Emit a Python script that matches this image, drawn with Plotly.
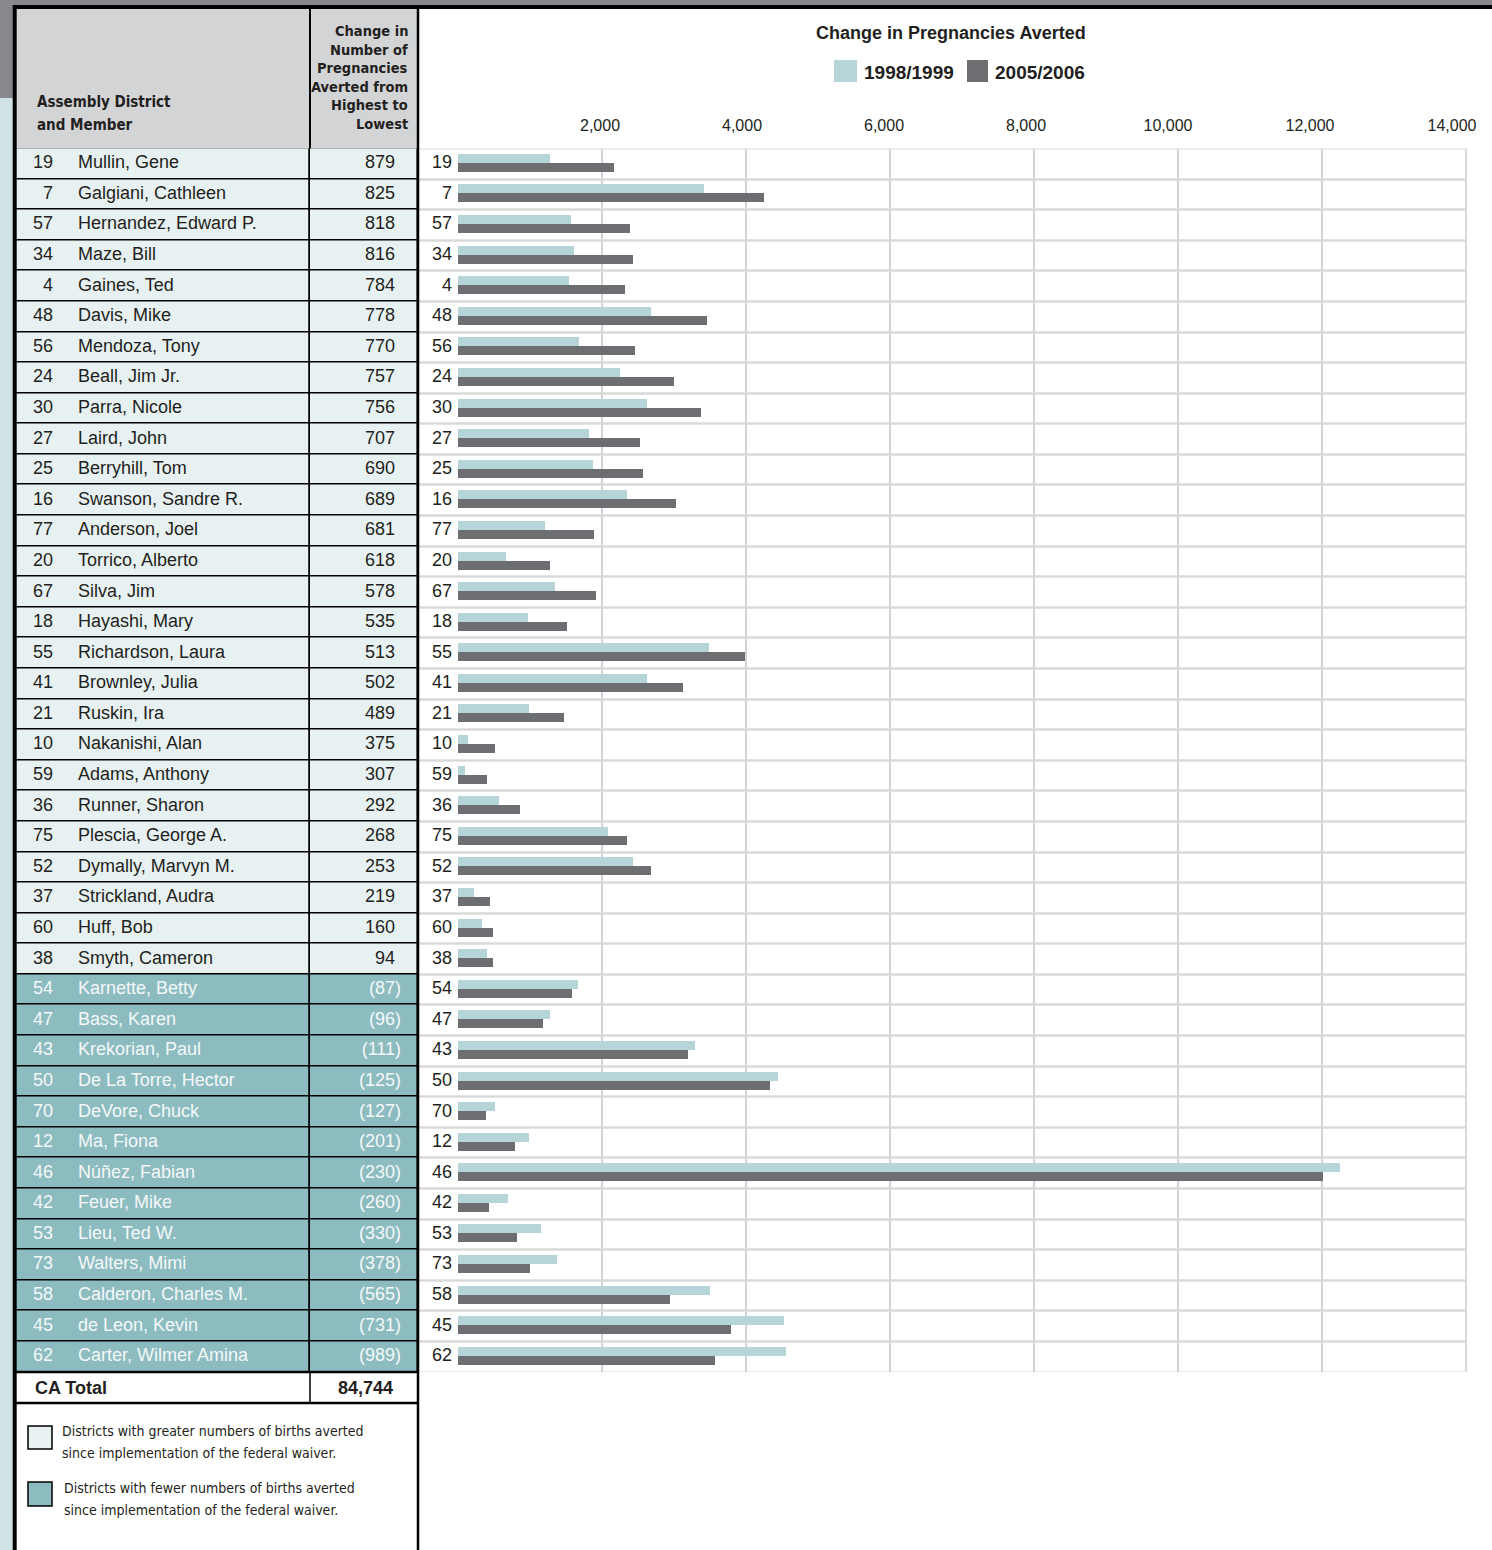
import plotly.graph_objects as go

# ---------------- data ----------------
districts = [19, 7, 57, 34, 4, 48, 56, 24, 30, 27, 25, 16, 77, 20, 67, 18, 55, 41, 21, 10,
             59, 36, 75, 52, 37, 60, 38, 54, 47, 43, 50, 70, 12, 46, 42, 53, 73, 58, 45, 62]
members = ["Mullin, Gene", "Galgiani, Cathleen", "Hernandez, Edward P.", "Maze, Bill",
           "Gaines, Ted", "Davis, Mike", "Mendoza, Tony", "Beall, Jim Jr.", "Parra, Nicole",
           "Laird, John", "Berryhill, Tom", "Swanson, Sandre R.", "Anderson, Joel",
           "Torrico, Alberto", "Silva, Jim", "Hayashi, Mary", "Richardson, Laura",
           "Brownley, Julia", "Ruskin, Ira", "Nakanishi, Alan", "Adams, Anthony",
           "Runner, Sharon", "Plescia, George A.", "Dymally, Marvyn M.", "Strickland, Audra",
           "Huff, Bob", "Smyth, Cameron", "Karnette, Betty", "Bass, Karen", "Krekorian, Paul",
           "De La Torre, Hector", "DeVore, Chuck", "Ma, Fiona", "Núñez, Fabian", "Feuer, Mike",
           "Lieu, Ted W.", "Walters, Mimi", "Calderon, Charles M.", "de Leon, Kevin",
           "Carter, Wilmer Amina"]
change = [879, 825, 818, 816, 784, 778, 770, 757, 756, 707, 690, 689, 681, 618, 578, 535,
          513, 502, 489, 375, 307, 292, 268, 253, 219, 160, 94, -87, -96, -111, -125, -127,
          -201, -230, -260, -330, -378, -565, -731, -989]
v1998 = [1282, 3426, 1569, 1615, 1546, 2685, 1685, 2254, 2629, 1824, 1879, 2351, 1213, 671,
         1351, 976, 3490, 2629, 990, 143, 101, 574, 2088, 2435, 226, 338, 407, 1671, 1282,
         3296, 4449, 518, 990, 12254, 699, 1157, 1379, 3504, 4532, 4560]
v2005 = [2167, 4254, 2389, 2435, 2324, 3463, 2463, 3004, 3379, 2532, 2574, 3032, 1893, 1282,
         1921, 1518, 3990, 3129, 1476, 518, 407, 865, 2351, 2685, 449, 490, 490, 1588, 1185,
         3199, 4338, 393, 796, 12014, 435, 824, 1004, 2949, 3796, 3574]
ca_total = "84,744"
series_names = ["1998/1999", "2005/2006"]
tick_values = [2000, 4000, 6000, 8000, 10000, 12000, 14000]
title_text = "Change in Pregnancies Averted"
col1_header = ["Assembly District", "and Member"]
col2_header = ["Change in", "Number of", "Pregnancies", "Averted from", "Highest to", "Lowest"]
legend_lines = [["Districts with greater numbers of births averted",
                 "since implementation of the federal waiver."],
                ["Districts with fewer numbers of births averted",
                 "since implementation of the federal waiver."]]

# ---------------- styling / geometry ----------------
W, H = 1492, 1550
REG = "Liberation Sans, Arial, sans-serif"
NARROW = "DejaVu Sans Condensed, Liberation Sans Narrow, Liberation Sans, sans-serif"
C_LIGHTROW = "#e8f1f2"
C_TEALROW = "#8dbcc0"
C_HEADER = "#d3d4d6"
C_BAR1 = "#b5d5d9"
C_BAR2 = "#6d6e71"
C_TEXT = "#231f20"
C_GRID = "#d2d2d4"

def px(x):
    return x / W

def py(y):
    return 1 - y / H

TABLE_L, TABLE_R, DIV = 15, 418, 310
ROW_TOP, ROW_BOT = 148.5, 1372
CHART_L = 418
ZERO_PX, PX_PER_UNIT = 457.7, 0.0720
x2_min = (CHART_L - ZERO_PX) / PX_PER_UNIT
x2_max = (W - ZERO_PX) / PX_PER_UNIT
# the printed tick labels sit on a slightly tighter scale than the gridlines
LBL_ZERO_PX, LBL_PX_PER_UNIT = 458.0, 0.0710
x3_min = (CHART_L - LBL_ZERO_PX) / LBL_PX_PER_UNIT
x3_max = (W - LBL_ZERO_PX) / LBL_PX_PER_UNIT

keys = [str(d) for d in districts]
n = len(keys)
positive = [c >= 0 for c in change]
row_fill = [C_LIGHTROW if p else C_TEALROW for p in positive]
row_txt = [C_TEXT if p else "#f4f8f8" for p in positive]
val_text = [f"{c:,}" if c >= 0 else f"({-c:,})" for c in change]

fig = go.Figure()

# ---- table rows (x axis 'x', shared categorical y) ----
name_w = DIV - TABLE_L
val_w = TABLE_R - DIV
fig.add_trace(go.Bar(orientation="h", y=keys, x=[name_w] * n, base=0, width=1,
                     marker=dict(color=row_fill, line=dict(color="black", width=1.5)),
                     xaxis="x", yaxis="y", hoverinfo="skip", showlegend=False))
fig.add_trace(go.Bar(orientation="h", y=keys, x=[val_w] * n, base=name_w, width=1,
                     marker=dict(color=row_fill, line=dict(color="black", width=1.5)),
                     xaxis="x", yaxis="y", hoverinfo="skip", showlegend=False))

fig.add_trace(go.Scatter(x=[53 - TABLE_L] * n, y=keys, text=[str(d) for d in districts],
                         mode="text", textposition="middle left",
                         textfont=dict(family=REG, size=18, color=row_txt),
                         xaxis="x", yaxis="y", hoverinfo="skip", showlegend=False))
fig.add_trace(go.Scatter(x=[78 - TABLE_L] * n, y=keys, text=members,
                         mode="text", textposition="middle right",
                         textfont=dict(family=REG, size=18, color=row_txt),
                         xaxis="x", yaxis="y", hoverinfo="skip", showlegend=False))
val_x = [(395 if p else 401) - TABLE_L for p in positive]
fig.add_trace(go.Scatter(x=val_x, y=keys, text=val_text,
                         mode="text", textposition="middle left",
                         textfont=dict(family=REG, size=18, color=row_txt),
                         xaxis="x", yaxis="y", hoverinfo="skip", showlegend=False))

# ---- chart (x axis 'x2') ----
fig.add_trace(go.Bar(orientation="h", y=keys, x=[tick_values[-1] - x2_min] * n, base=x2_min,
                     width=1, marker=dict(color="rgba(0,0,0,0)",
                                          line=dict(color="#d9d9da", width=2)),
                     xaxis="x2", yaxis="y", hoverinfo="skip", showlegend=False))
fig.add_trace(go.Bar(orientation="h", y=keys, x=v1998, name=series_names[0],
                     offset=0.046, width=0.294, marker=dict(color=C_BAR1, line=dict(width=0)),
                     xaxis="x2", yaxis="y", showlegend=False))
fig.add_trace(go.Bar(orientation="h", y=keys, x=v2005, name=series_names[1],
                     offset=-0.248, width=0.294, marker=dict(color=C_BAR2, line=dict(width=0)),
                     xaxis="x2", yaxis="y", showlegend=False))
fig.add_trace(go.Scatter(x=[(452 - ZERO_PX) / PX_PER_UNIT] * n, y=keys, text=keys,
                         mode="text", textposition="middle left",
                         textfont=dict(family=REG, size=18, color=C_TEXT),
                         xaxis="x2", yaxis="y", hoverinfo="skip", showlegend=False))
# invisible trace to carry the tick-label axis
fig.add_trace(go.Scatter(x=[tick_values[0]], y=[keys[0]], mode="markers",
                         marker=dict(opacity=0), xaxis="x3", yaxis="y",
                         hoverinfo="skip", showlegend=False))

# ---------------- shapes ----------------
shapes = []

def rect(x0, y0, x1, y1, fill, line_color=None, lw=0, layer="below"):
    shapes.append(dict(type="rect", xref="paper", yref="paper",
                       x0=px(x0), x1=px(x1), y0=py(y1), y1=py(y0),
                       fillcolor=fill, layer=layer,
                       line=dict(color=line_color or fill, width=lw)))

def line(x0, y0, x1, y1, color="black", lw=2):
    shapes.append(dict(type="line", xref="paper", yref="paper",
                       x0=px(x0), x1=px(x1), y0=py(y0), y1=py(y1),
                       line=dict(color=color, width=lw), layer="above"))

rect(0, 0, W, 5, "#87888b")
rect(0, 0, 13, 98, "#87888b")
rect(0, 98, 13, H, "#cfe3e5")
rect(TABLE_L, 9, TABLE_R, ROW_TOP, C_HEADER)
line(13, 7, W, 7, lw=4)
line(DIV, 9, DIV, ROW_TOP, lw=2)
line(DIV, ROW_BOT, DIV, 1403, lw=1.5)
line(TABLE_L, ROW_BOT, TABLE_R, ROW_BOT, lw=2.5)
line(TABLE_L, 1403, TABLE_R, 1403, lw=2.5)
line(14.7, 5, 14.7, H, lw=4)
line(418, 5, 418, H, lw=2.5)
# bottom legend swatches
rect(28, 1426, 52, 1449, C_LIGHTROW, "black", 1.5, layer="above")
rect(28, 1482, 52, 1506, C_TEALROW, "black", 1.5, layer="above")
# chart legend swatches
rect(834, 60, 857, 82, C_BAR1, layer="above")
rect(967, 60, 988, 82, C_BAR2, layer="above")

# ---------------- annotations ----------------
ann = []

def text(x, y, s, anchor="left", family=REG, size=18, bold=False, color=C_TEXT):
    ann.append(dict(xref="paper", yref="paper", x=px(x), y=py(y), text=f"<b>{s}</b>" if bold else s,
                    xanchor=anchor, yanchor="middle", showarrow=False,
                    font=dict(family=family, size=size, color=color)))

for i, s in enumerate(col1_header):
    text(35, 102 + i * 23, s, family=NARROW, size=15, bold=True)
for i, s in enumerate(col2_header):
    text(410, 31 + i * 18.6, s, anchor="right", family=NARROW, size=14.5, bold=True)
text(33, 1388, "CA Total", bold=True, size=18)
text(395, 1388, ca_total, anchor="right", bold=True, size=18)
for j, lines in enumerate(legend_lines):
    for i, s in enumerate(lines):
        text(60 + 2 * j, 1431 + 57 * j + i * 22, s, family=NARROW, size=14)
text(951, 33, title_text, anchor="center", bold=True, size=18)
text(862, 72, series_names[0], bold=True, size=19)
text(993, 72, series_names[1], bold=True, size=19)

fig.update_layout(
    width=W, height=H, autosize=False,
    margin=dict(l=0, r=0, t=0, b=0),
    paper_bgcolor="white", plot_bgcolor="rgba(0,0,0,0)",
    barmode="overlay", bargap=0,
    shapes=shapes, annotations=ann,
    xaxis=dict(domain=[px(TABLE_L), px(TABLE_R)], range=[0, TABLE_R - TABLE_L],
               visible=False, fixedrange=True),
    xaxis2=dict(domain=[px(CHART_L), 1], range=[x2_min, x2_max], anchor="y",
                side="top", tickvals=tick_values, showticklabels=False, ticks="",
                showgrid=True, gridcolor=C_GRID, gridwidth=2,
                zeroline=False, showline=False, fixedrange=True),
    xaxis3=dict(domain=[px(CHART_L), 1], range=[x3_min, x3_max], anchor="y",
                overlaying="x2", side="top", tickvals=tick_values,
                ticktext=[f"{v:,}" for v in tick_values],
                tickfont=dict(family=REG, size=16, color=C_TEXT),
                ticks="outside", ticklen=10, tickcolor="rgba(0,0,0,0)",
                showgrid=False, zeroline=False, showline=False, fixedrange=True),
    yaxis=dict(domain=[py(ROW_BOT), py(ROW_TOP)], type="category",
               categoryorder="array", categoryarray=keys[::-1],
               range=[-0.5, n - 0.5], showticklabels=False, showgrid=False,
               zeroline=False, fixedrange=True),
    showlegend=False,
)

fig.write_html("out.html", config={"displayModeBar": False},
               post_script="document.body.style.margin='0px';document.body.style.overflow='hidden';")
